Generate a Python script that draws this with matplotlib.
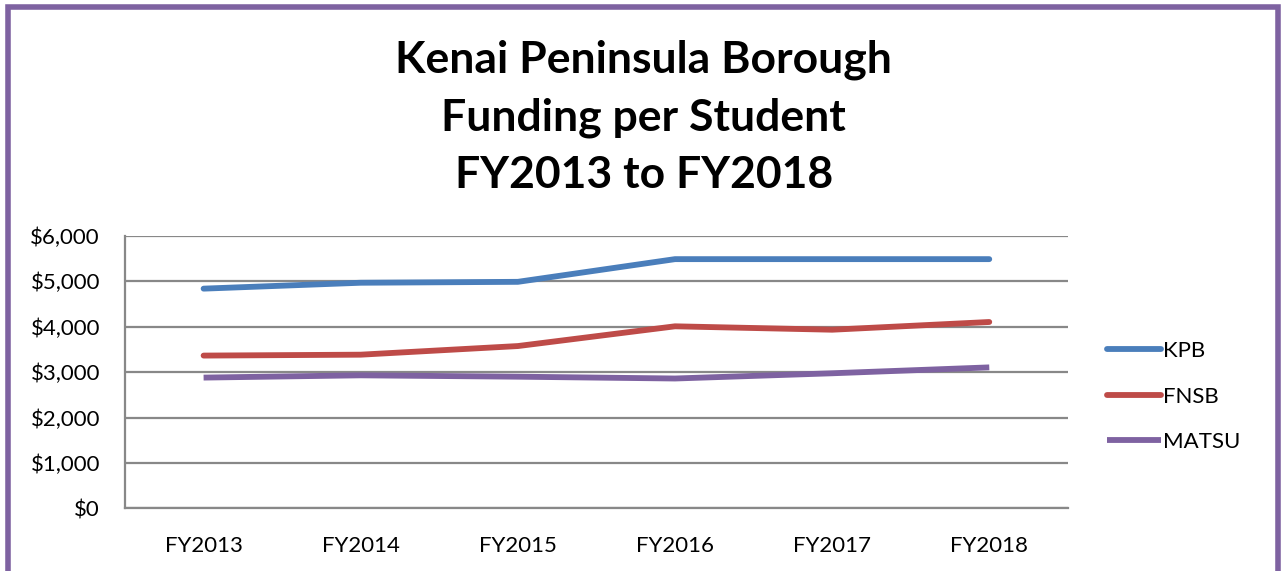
# Kenai Peninsula Borough funding per student - line chart
import matplotlib
matplotlib.use("Agg")
import matplotlib.pyplot as plt
from matplotlib.patches import Rectangle
from matplotlib.ticker import FuncFormatter

# data ---------------------------------------------------------------------
years = ["FY2013", "FY2014", "FY2015", "FY2016", "FY2017", "FY2018"]
kpb = [4840, 4970, 4990, 5490, 5490, 5490]
fnsb = [3365, 3385, 3575, 4010, 3935, 4105]
matsu = [2880, 2930, 2900, 2860, 2975, 3105]

# style --------------------------------------------------------------------
plt.rcParams['font.family'] = ['Lato', 'DejaVu Sans']
BLUE = "#4A7EBB"
RED = "#BE4B48"
PURPLE = "#7E62A1"
GRID = "#888888"

fig = plt.figure(figsize=(12.85, 5.71), dpi=100)
ax = fig.add_axes([0.0973, 0.1098, 0.7337, 0.4769])

x = list(range(len(years)))
ax.plot(x, kpb, color=BLUE, linewidth=4.2, solid_capstyle='round', label="KPB")
ax.plot(x, fnsb, color=RED, linewidth=4.2, solid_capstyle='round', label="FNSB")
ax.plot(x, matsu, color=PURPLE, linewidth=4.2, solid_capstyle='butt', label="MATSU")

# axes
ax.set_xlim(-0.5, len(years) - 0.5)
ax.set_ylim(0, 6000)
ax.set_yticks(range(0, 6001, 1000))
ax.yaxis.set_major_formatter(FuncFormatter(lambda v, p: "${:,.0f}".format(v)))
ax.set_xticks(x)
ax.set_xticklabels(years)
ax.tick_params(axis='both', labelsize=16, length=0, colors='black')
ax.tick_params(axis='x', pad=20)
ax.tick_params(axis='y', pad=18)
ax.grid(axis='y', color=GRID, linewidth=1.6)
ax.set_axisbelow(True)
for s in ['top', 'right']:
    ax.spines[s].set_visible(False)
ax.spines['left'].set_color(GRID)
ax.spines['left'].set_linewidth(1.6)
ax.spines['bottom'].set_color(GRID)
ax.spines['bottom'].set_linewidth(1.6)

# title
fig.text(0.501, 0.795, "Kenai Peninsula Borough\nFunding per Student\nFY2013 to FY2018",
         ha='center', va='center', fontsize=32, fontweight='bold', linespacing=1.52)

# legend
ax.legend(loc='center left', bbox_to_anchor=(1.02, 0.41), frameon=False,
          fontsize=16, handlelength=2.45, handletextpad=0.1, labelspacing=1.15)

# outer purple border
fig.patches.append(Rectangle((0.0066, -0.05), 0.9883, 1.037, transform=fig.transFigure,
                             fill=False, edgecolor=PURPLE, linewidth=4))

fig.savefig("out.png", dpi=100)
